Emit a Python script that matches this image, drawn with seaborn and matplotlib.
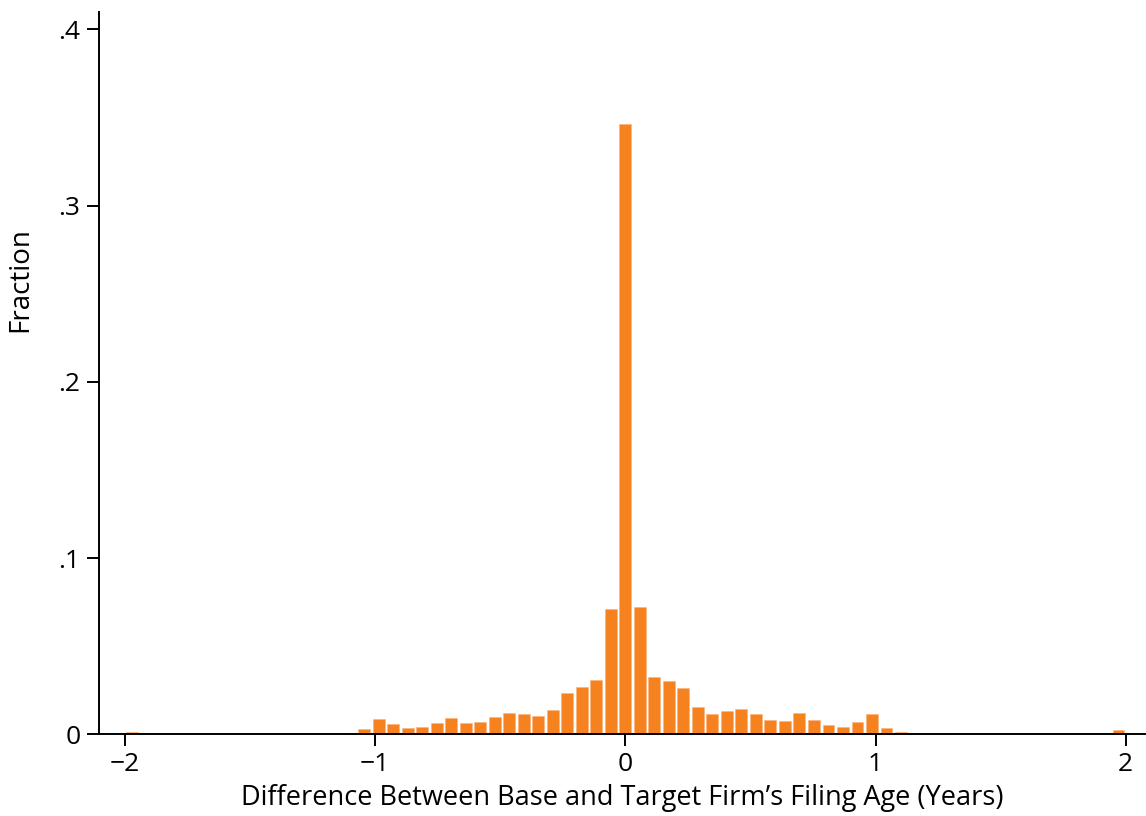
import numpy as np
import pandas as pd
import matplotlib
matplotlib.use("Agg")
import matplotlib.pyplot as plt
import seaborn as sns

# Histogram layout: 69 equal-width bins spanning -2 to 2 years
range_min, range_max = -2.0, 2.0
n_bins = 69

# Fraction of pairs in each bin (left to right)
fraction = [
    0.0015, 0.0, 0.0, 0.0, 0.0, 0.0, 0.0, 0.0, 0.0, 0.0,      # bins 0-9
    0.0, 0.0, 0.0003, 0.0003, 0.0003, 0.0009, 0.0028, 0.0087, 0.0058, 0.0034,  # 10-19
    0.0043, 0.0066, 0.0094, 0.0064, 0.0072, 0.0098, 0.0121, 0.0115, 0.0102, 0.0140,  # 20-29
    0.0234, 0.0270, 0.0308, 0.0709, 0.3464, 0.0723, 0.0325, 0.0302, 0.0261, 0.0157,  # 30-39
    0.0114, 0.0131, 0.0142, 0.0115, 0.0081, 0.0075, 0.0119, 0.0079, 0.0053, 0.0041,  # 40-49
    0.0070, 0.0114, 0.0036, 0.0013, 0.0005, 0.0005, 0.0005, 0.0, 0.0, 0.0003,  # 50-59
    0.0003, 0.0, 0.0, 0.0, 0.0, 0.0, 0.0, 0.0003, 0.0026,  # 60-68
]

x_ticks = [-2, -1, 0, 1, 2]
x_tick_labels = ["\u22122", "\u22121", "0", "1", "2"]
y_ticks = [0.0, 0.1, 0.2, 0.3, 0.4]
y_tick_labels = ["0", ".1", ".2", ".3", ".4"]

x_label = "Difference Between Base and Target Firm\u2019s Filing Age (Years)"
y_label = "Fraction"
bar_color = "#F5821F"

bin_edges = np.linspace(range_min, range_max, n_bins + 1)
bin_mid = 0.5 * (bin_edges[:-1] + bin_edges[1:])
df = pd.DataFrame({"diff_years": bin_mid, "fraction": fraction})

sns.set_theme(style="white")
plt.rcParams["font.family"] = ["Open Sans", "DejaVu Sans"]

fig = plt.figure(figsize=(11.46, 8.16), dpi=100)
ax = fig.add_axes([0.0861, 0.1001, 0.913, 0.8856])

sns.histplot(
    data=df, x="diff_years", weights="fraction",
    bins=n_bins, binrange=(range_min, range_max), stat="count",
    shrink=0.81, color=bar_color, alpha=1.0,
    edgecolor="#F9B37C", linewidth=0.4, ax=ax,
)

ax.set_xlim(-2.105, 2.077)
ax.set_ylim(0, 0.41)

ax.set_xticks(x_ticks)
ax.set_xticklabels(x_tick_labels)
ax.set_yticks(y_ticks)
ax.set_yticklabels(y_tick_labels)

for side in ("top", "right"):
    ax.spines[side].set_visible(False)
for side in ("left", "bottom"):
    ax.spines[side].set_color("black")
    ax.spines[side].set_linewidth(1.4)

ax.tick_params(axis="both", direction="out", length=8.6, width=1.4,
               bottom=True, left=True,
               color="black", labelsize=19, labelcolor="black")
ax.tick_params(axis="x", pad=4)
ax.tick_params(axis="y", pad=4.5)

ax.set_xlabel(x_label, fontsize=19.5, color="black", labelpad=5)
ax.set_ylabel(y_label, fontsize=20, color="black")
ax.yaxis.set_label_coords(-0.062, 0.629)

fig.savefig("out.png", dpi=100, facecolor="white")
